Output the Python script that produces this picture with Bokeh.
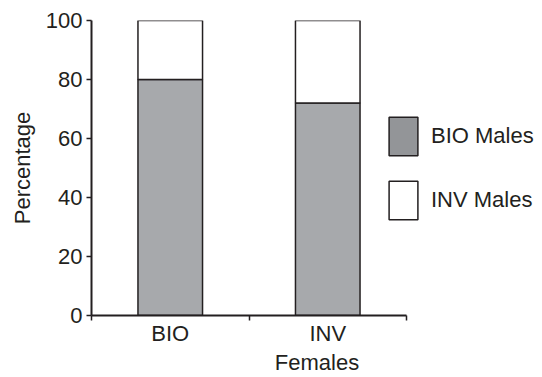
from bokeh.plotting import figure
from bokeh.models import Range1d, FixedTicker, Legend, LegendItem, ColumnDataSource
from bokeh.embed import file_html
from bokeh.resources import INLINE

categories = ["BIO", "INV"]
bio_males = [80, 72]
inv_males = [20, 28]
y_ticks = [0, 20, 40, 60, 80, 100]
series_names = ["BIO Males", "INV Males"]

FONT = "Liberation Sans"
INK = "#231f20"
BAR_GREY = "#a7a9ac"
LEG_GREY = "#939598"

W, H = 542, 377
LEFT, TOP, BOTTOM = 91, 20, 61
AXIS_PX = 315  # pixel length of the category axis
frame_w = W - LEFT

n = len(categories)
centers = [i + 0.5 for i in range(n)]
bounds = list(range(n + 1))
tops_bio = bio_males
tops_inv = [a + b for a, b in zip(bio_males, inv_males)]

src = ColumnDataSource(dict(x=centers, b0=[0] * n, t0=tops_bio, t1=tops_inv))

p = figure(width=W, height=H, output_backend="svg", toolbar_location=None,
           x_range=Range1d(0, n * frame_w / AXIS_PX), y_range=Range1d(0, 100),
           min_border_left=LEFT, min_border_right=0, min_border_top=TOP, min_border_bottom=BOTTOM)
p.outline_line_color = None
p.grid.visible = False
p.background_fill_color = "white"
p.border_fill_color = "white"

p.vbar(x="x", bottom="b0", top="t0", width=0.41, source=src,
       fill_color=BAR_GREY, line_color=INK, line_width=1.5)
p.vbar(x="x", bottom="t0", top="t1", width=0.41, source=src,
       fill_color="white", line_color=INK, line_width=1.5)

# legend-only renderers (one undrawable NaN bar each, so the legend has a style to show)
nan = float("nan")
r_leg1 = p.vbar(x=[nan], top=[nan], width=0.4, fill_color=LEG_GREY, line_color=INK, line_width=1.5)
r_leg2 = p.vbar(x=[nan], top=[nan], width=0.4, fill_color="white", line_color=INK, line_width=1.5)

legend = Legend(items=[LegendItem(label=series_names[0], renderers=[r_leg1], index=0),
                       LegendItem(label=series_names[1], renderers=[r_leg2], index=0)],
                location=(294, 91), padding=0, margin=0, spacing=16,
                glyph_width=36, glyph_height=48, label_standoff=10, label_height=25,
                border_line_alpha=0, background_fill_alpha=0,
                label_text_font=FONT, label_text_font_size="22px", label_text_color=INK)
p.add_layout(legend, "center")

xa = p.xaxis[0]
xa.bounds = (0, n)
xa.ticker = FixedTicker(ticks=centers, minor_ticks=bounds)
xa.major_label_overrides = {c: lab for c, lab in zip(centers, categories)}
xa.major_tick_out = 0
xa.major_tick_in = 0
xa.minor_tick_out = 5
xa.minor_tick_in = 0
xa.minor_tick_line_color = INK
xa.minor_tick_line_width = 1.5
xa.axis_label = "Females"
xa.major_label_standoff = 0
xa.axis_label_standoff = 1

ya = p.yaxis[0]
ya.ticker = FixedTicker(ticks=y_ticks)
ya.minor_tick_line_color = None
ya.major_tick_out = 5
ya.major_tick_in = 0
ya.major_tick_line_color = INK
ya.major_tick_line_width = 1.5
ya.axis_label = "Percentage"
ya.major_label_standoff = 4
ya.axis_label_standoff = 8

for ax in (xa, ya):
    ax.axis_line_color = INK
    ax.axis_line_width = 2
    ax.major_label_text_font = FONT
    ax.major_label_text_font_size = "22px"
    ax.major_label_text_color = INK
    ax.axis_label_text_font = FONT
    ax.axis_label_text_font_size = "22px"
    ax.axis_label_text_font_style = "normal"
    ax.axis_label_text_color = INK

open("out.html", "w").write(file_html(p, INLINE))
